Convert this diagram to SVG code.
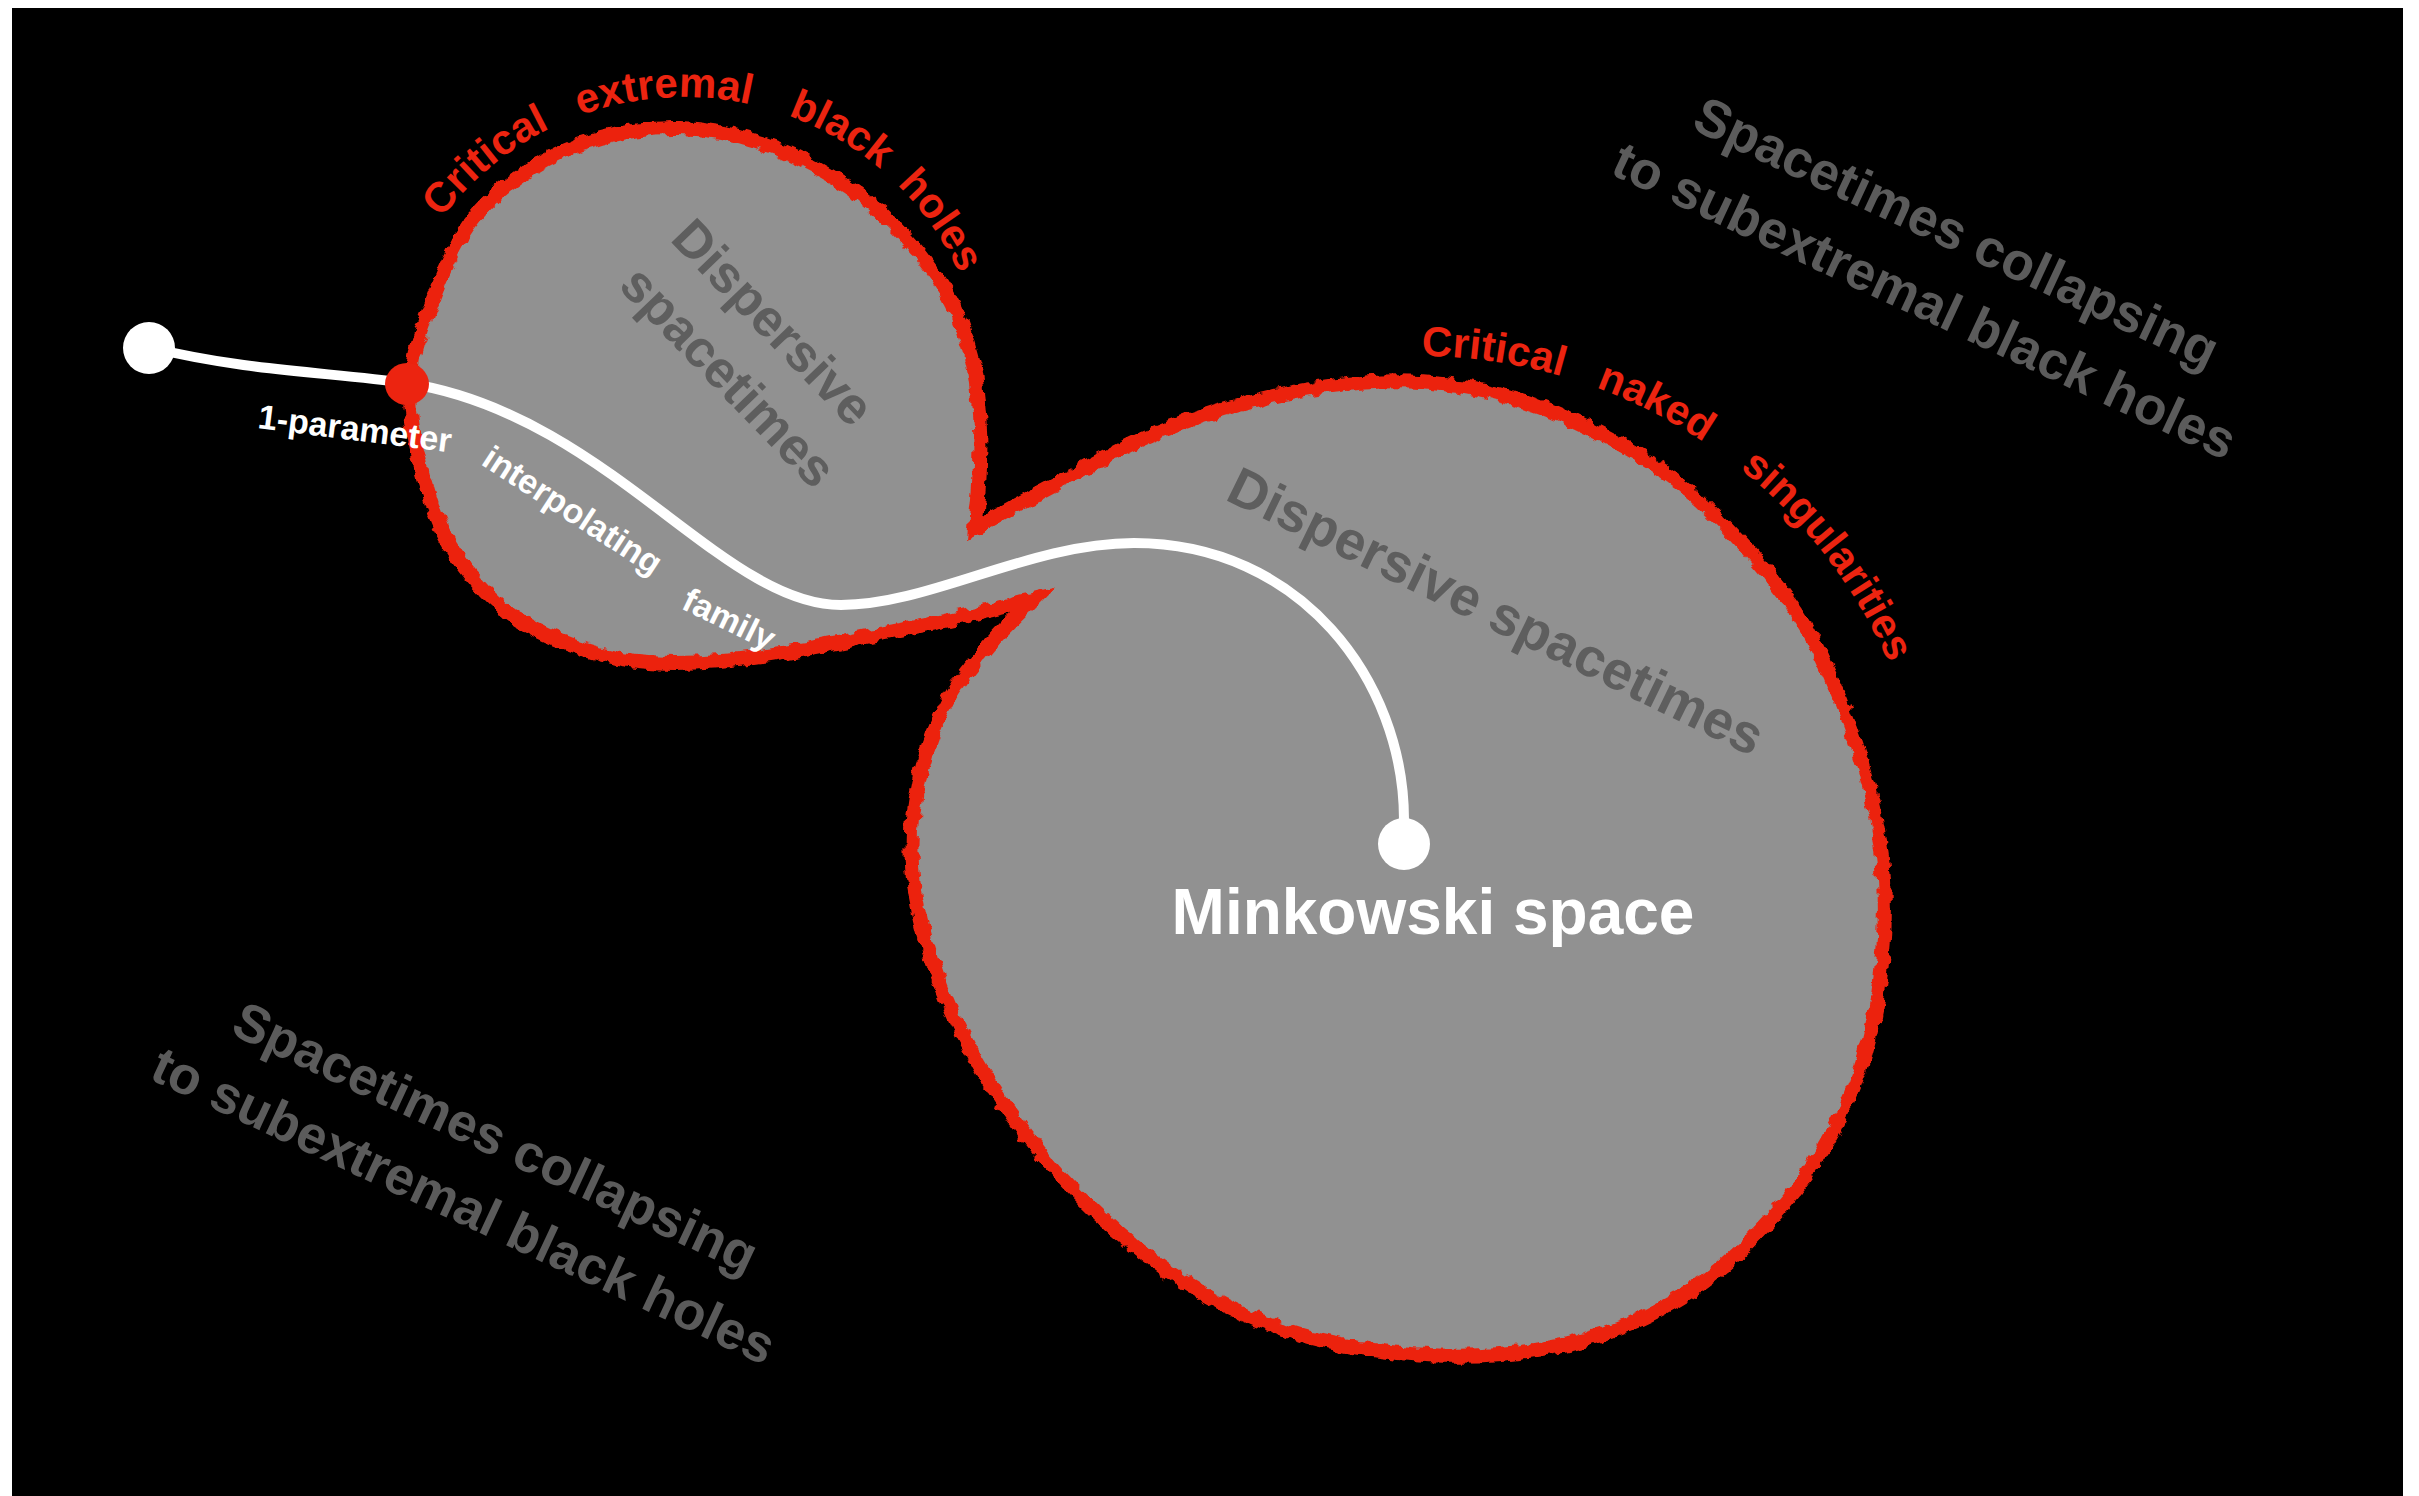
<svg xmlns="http://www.w3.org/2000/svg" width="2419" height="1496" viewBox="0 0 2419 1496">
  <defs>
    <!-- ragged, hand-drawn look for the boundary stroke -->
    <filter id="rough" x="-6%" y="-6%" width="112%" height="112%">
      <feTurbulence type="fractalNoise" baseFrequency="0.09" numOctaves="2" seed="7" result="noise"/>
      <feDisplacementMap in="SourceGraphic" in2="noise" scale="10" xChannelSelector="R" yChannelSelector="G"/>
    </filter>
    <!-- outline of the two-lobed region (small lobe + large lobe joined at a neck) -->
    <path id="blob" d="M1033,600
      C1009.3,605.7 987.5,611.3 962,617 C933.7,623.5 907,628.5 880,634 C853,639.5 826.7,645.5 800,650
      C773.3,654.5 745,659 720,661 C695,663 672.3,663.8 650,662 C627.7,660.2 609.3,658 586,650
      C562.7,642 532.7,631.5 510,614 C487.3,596.5 465,570.3 450,545 C435,519.3 426.7,488.8 420,462
      C413.3,435.2 409,408 410,384 C411,360 416.3,344.3 426,318 C435.7,291.7 450.8,250.7 468,226
      C485.2,201.3 507,184.7 529,170 C551,155.3 574.8,145 600,138 C625.2,131 653.3,127.3 680,128
      C706.7,128.7 734.2,133.7 760,142 C785.8,150.3 812.5,164 835,178 C857.5,192 876.7,207.3 895,226
      C913.3,244.7 932.2,267.7 945,290 C957.8,312.3 966.2,336.7 972,360 C977.8,383.3 978.8,409.2 980,430
      C981.2,450.8 979.8,468.7 979,485 C978.2,501.3 976.3,513.7 975,528
      C1003.3,512.7 1030.8,497.3 1060,482 C1089.2,466.7 1120,448.8 1150,436 C1180,423.2 1210,413.3 1240,405
      C1270,396.7 1300,389.8 1330,386 C1360,382.2 1390,380.2 1420,382 C1450,383.8 1481.3,389 1510,397
      C1538.7,405 1564.5,416.2 1592,430 C1619.5,443.8 1649,460 1675,480 C1701,500 1726.7,526.3 1748,550
      C1769.3,573.7 1787.7,597 1803,622 C1818.3,647 1828.8,672 1840,700 C1851.2,728 1862.7,760 1870,790
      C1877.3,820 1882.2,849.7 1884,880 C1885.8,910.3 1884.7,941.3 1881,972 C1877.3,1002.7 1871.5,1034.7 1862,1064
      C1852.5,1093.3 1839.7,1121.7 1824,1148 C1808.3,1174.3 1789.5,1198.7 1768,1222 C1746.5,1245.3 1723,1269.2 1695,1288
      C1667,1306.8 1632.5,1324 1600,1335 C1567.5,1346 1533.3,1351 1500,1354 C1466.7,1357 1433.3,1356.2 1400,1353
      C1366.7,1349.8 1332.5,1344.7 1300,1335 C1267.5,1325.3 1235.3,1312.2 1205,1295 C1174.7,1277.8 1145.5,1255.8 1118,1232
      C1090.5,1208.2 1063.7,1180.7 1040,1152 C1016.3,1123.3 994,1092 976,1060 C958,1028 942.7,992.5 932,960
      C921.3,927.5 914,895.8 912,865 C910,834.2 914,802.5 920,775 C926,747.5 936,722.2 948,700
      C960,677.8 977.8,658.7 992,642 C1006.2,625.3 1019.3,614 1033,600 Z"/>
    <!-- baselines for the curved boundary labels -->
    <path id="arcExtremal" d="M399.3,296.4 A303,303 0 0 1 982.4,347.4"/>
    <path id="arcNaked" d="M1329.9,363.8 A513,513 0 0 1 1924.2,779.9"/>
  </defs>
  <style>
    text { font-family: "Liberation Sans", Arial, Helvetica, sans-serif; font-weight: bold; }
    .red { fill: #ec2410; font-size: 42px; }
    .gray { fill: #5b5b5b; font-size: 53px; }
    .inner { fill: #5e5e5e; }
    .family { fill: #ffffff; font-size: 34px; }
    .boundary { fill: none; stroke: #ec2410; stroke-linejoin: miter; stroke-miterlimit: 10; }
  </style>

  <!-- page -->
  <rect x="0" y="0" width="2419" height="1496" fill="#ffffff"/>
  <rect x="12" y="8" width="2391" height="1488" fill="#000000"/>

  <!-- region of dispersive spacetimes -->
  <g id="region">
    <use href="#blob" fill="#919191"/>
    <use href="#blob" class="boundary" stroke-width="8"/>
    <use href="#blob" class="boundary" stroke-width="14" filter="url(#rough)"/>
  </g>

  <!-- boundary labels -->
  <g id="label-critical-extremal">
    <text class="red"><textPath href="#arcExtremal" startOffset="89">Critical</textPath></text>
    <text class="red"><textPath href="#arcExtremal" startOffset="264">extremal</textPath></text>
    <text class="red"><textPath href="#arcExtremal" startOffset="476">black</textPath></text>
    <text class="red"><textPath href="#arcExtremal" startOffset="606">holes</textPath></text>
  </g>
  <g id="label-critical-naked">
    <text class="red"><textPath href="#arcNaked" startOffset="92">Critical</textPath></text>
    <text class="red"><textPath href="#arcNaked" startOffset="270">naked</textPath></text>
    <text class="red"><textPath href="#arcNaked" startOffset="436">singularities</textPath></text>
  </g>

  <!-- interior labels -->
  <g id="label-dispersive-small" transform="translate(748,352) rotate(46)">
    <text class="inner" font-size="52" text-anchor="middle" x="-4" y="-21">Dispersive</text>
    <text class="inner" font-size="52" text-anchor="middle" x="4" y="49">spacetimes</text>
  </g>
  <g id="label-dispersive-large">
    <text class="inner" font-size="54.5" text-anchor="middle" transform="translate(1488,628) rotate(26)">Dispersive spacetimes</text>
  </g>

  <!-- exterior labels -->
  <g id="label-collapsing-upper" transform="translate(1940,268) rotate(25)">
    <text class="gray" text-anchor="middle" y="-21">Spacetimes collapsing</text>
    <text class="gray" text-anchor="middle" y="54">to subextremal black holes</text>
  </g>
  <g id="label-collapsing-lower" transform="translate(479,1173) rotate(25)">
    <text class="gray" text-anchor="middle" y="-21">Spacetimes collapsing</text>
    <text class="gray" text-anchor="middle" y="54">to subextremal black holes</text>
  </g>

  <!-- the interpolating family -->
  <g id="connectors">
    <path id="family-curve" d="M148,347 C250,372 330,372 406,383 C606,413 721,605 841,605 C930,605 1030,543 1134,543 C1300,543 1404,680 1404,820"
          fill="none" stroke="#ffffff" stroke-width="10" stroke-linecap="round"/>
  </g>
  <g id="label-family">
    <text class="family" transform="translate(257,428) rotate(7.2)">1-parameter</text>
    <text class="family" transform="translate(480,464) rotate(33)">interpolating</text>
    <text class="family" transform="translate(680,608) rotate(26)">family</text>
  </g>

  <!-- points on the family -->
  <g id="node-start"><circle cx="149" cy="348" r="26" fill="#ffffff"/></g>
  <g id="node-critical"><ellipse cx="407" cy="384" rx="22" ry="21" fill="#ec2410"/></g>
  <g id="node-minkowski">
    <circle cx="1404" cy="844" r="26" fill="#ffffff"/>
    <text x="1433" y="934" fill="#ffffff" font-size="64" text-anchor="middle">Minkowski space</text>
  </g>
</svg>
